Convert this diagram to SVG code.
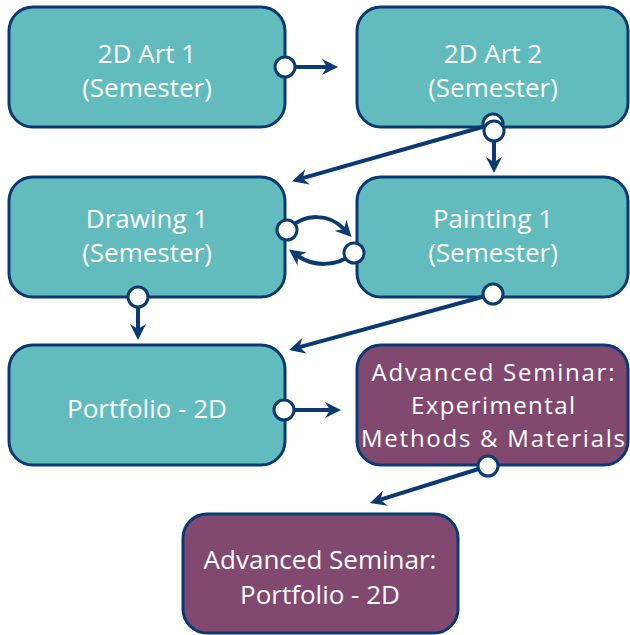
<svg xmlns="http://www.w3.org/2000/svg" width="630" height="635" viewBox="0 0 630 635">
<defs>
<style>
.teal{fill:#62BBBD;stroke:#0B3A73;stroke-width:3}
.plum{fill:#81496F;stroke:#0B3A73;stroke-width:3}
.lbl{font-family:"Open Sans","Noto Sans",sans-serif;font-size:26px;fill:#FFFFFF;text-anchor:middle}
.sm{font-size:24px}
.con{fill:none;stroke:#0B3A73;stroke-width:4;marker-end:url(#ah)}
.dot{fill:#FFFFFF;stroke:#0B3A73;stroke-width:3}
</style>
<marker id="ah" viewBox="0 0 16 16" markerWidth="16" markerHeight="16" refX="5" refY="8" orient="auto" markerUnits="userSpaceOnUse">
<path d="M16,8 L0,0 L5,8 L0,16 Z" fill="#0B3A73"/>
</marker>
</defs>
<rect width="630" height="635" fill="#FFFFFF"/>
<g id="n1"><rect class="teal" x="9" y="7" width="276" height="120" rx="24"/><text class="lbl" x="147" y="63">2D Art 1</text><text class="lbl" x="147" y="97">(Semester)</text></g>
<g id="n2"><rect class="teal" x="357" y="7" width="271" height="120" rx="24"/><text class="lbl" x="493" y="63">2D Art 2</text><text class="lbl" x="493" y="97">(Semester)</text></g>
<g id="n3"><rect class="teal" x="9" y="177" width="276" height="120" rx="24"/><text class="lbl" x="147" y="228">Drawing 1</text><text class="lbl" x="147" y="262">(Semester)</text></g>
<g id="n4"><rect class="teal" x="357" y="177" width="271" height="120" rx="24"/><text class="lbl" x="493" y="228">Painting 1</text><text class="lbl" x="493" y="262">(Semester)</text></g>
<g id="n5"><rect class="teal" x="9" y="345" width="276" height="120" rx="24"/><text class="lbl" x="147" y="418">Portfolio - 2D</text></g>
<g id="n6"><rect class="plum" x="357" y="345" width="271" height="120" rx="24"/><text class="lbl sm" x="493" y="381" textLength="243" lengthAdjust="spacing">Advanced Seminar:</text><text class="lbl sm" x="493" y="414" textLength="164" lengthAdjust="spacing">Experimental</text><text class="lbl sm" x="493" y="447" textLength="264" lengthAdjust="spacing">Methods &amp; Materials</text></g>
<g id="n7"><rect class="plum" x="183" y="514" width="275" height="119" rx="24"/><text class="lbl" x="320" y="569">Advanced Seminar:</text><text class="lbl" x="320" y="604">Portfolio - 2D</text></g>
<g id="connectors">
<path class="con" d="M285,67 L327,67"/>
<path class="con" d="M493,124 L302.6,178.2"/>
<path class="con" d="M494,131 L494,162"/>
<path class="con" d="M287,230 C305,212 330,214 344,229"/>
<path class="con" d="M354,253 C336,268 312,266 298,256"/>
<path class="con" d="M138,297 L138,329"/>
<path class="con" d="M493,294 L299.6,347.1"/>
<path class="con" d="M284,410 L330,410"/>
<path class="con" d="M488,466 L380.5,499.7"/>
<circle class="dot" cx="285" cy="67" r="10"/>
<circle class="dot" cx="493" cy="124" r="10"/>
<circle class="dot" cx="494" cy="131" r="10"/>
<circle class="dot" cx="287" cy="230" r="10"/>
<circle class="dot" cx="354" cy="253" r="10"/>
<circle class="dot" cx="138" cy="297" r="10"/>
<circle class="dot" cx="493" cy="294" r="10"/>
<circle class="dot" cx="284" cy="410" r="10"/>
<circle class="dot" cx="488" cy="466" r="10"/>
</g>
</svg>
